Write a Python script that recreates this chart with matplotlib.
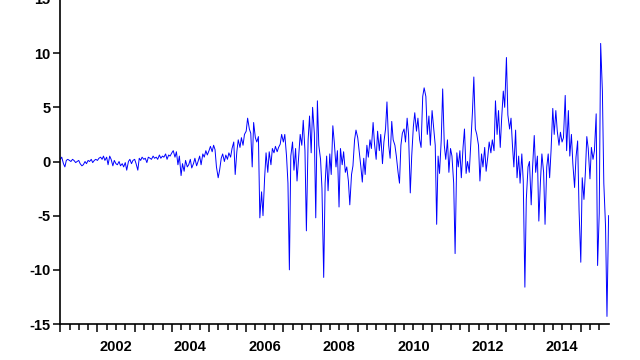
import numpy as np
import pandas as pd
import matplotlib
matplotlib.use("Agg")
import matplotlib.pyplot as plt
from matplotlib.ticker import MultipleLocator, FixedLocator, NullFormatter

plt.rcParams["axes.unicode_minus"] = False

v2001 = [0.2, 0.4, -0.2, -0.5, 0.1, 0.2, 0.1, 0.0, 0.2, 0.1, -0.1, 0.0,
         0.1, -0.2, -0.4, -0.3, 0.0, -0.2, 0.1, 0.0, 0.2, -0.1, 0.1, 0.2]
v2002 = [0.1, 0.3, 0.4, 0.2, 0.5, 0.1, 0.4, -0.3, 0.5, 0.2, -0.4, 0.1,
         -0.2, -0.3, 0.0, -0.4, -0.2, -0.5, -0.1, -0.8, 0.0, 0.2, -0.2, 0.1]
v2003 = [0.2, -0.2, -0.8, 0.3, 0.1, 0.4, 0.2, 0.3, -0.1, 0.4, 0.3, 0.2,
         0.5, 0.3, 0.4, 0.2, 0.6, 0.3, 0.5, 0.4, 0.7, 0.2, 0.6, 0.5]
v2004 = [0.8, 1.0, 0.4, 0.9, -0.3, 0.5, -1.3, -0.2, -0.9, 0.1, -0.5, -0.3,
         0.2, -0.6, -0.2, 0.3, -0.4, 0.0, 0.5, -0.3, 0.7, 0.4, 1.0, 0.6]
v2005 = [1.0, 1.4, 0.9, 1.5, 1.1, -0.5, -1.5, -0.8, 0.3, 0.7, 0.0, 0.6,
         0.2, 0.8, 0.4, 1.2, 1.8, -1.2, 0.9, 2.0, 1.3, 2.2, 1.5, 2.5]
v2006 = [2.8, 4.0, 3.0, 2.6, -0.5, 3.6, 2.2, 1.8, 2.3, -5.2, -2.8, -5.0,
         -1.5, 0.8, -1.0, 0.9, -0.3, 1.2, 0.8, 1.4, 0.9, 1.3, 1.6, 2.5]
v2007 = [1.8, 2.5, 0.5, -2.0, -10.0, 0.5, 1.8, -0.8, 1.2, -1.8, 0.6, 2.5,
         1.5, 3.8, 1.0, -6.4, 2.0, 4.2, 0.8, 5.0, 2.6, -5.2, 5.6, 1.5]
v2008 = [0.2, -2.5, -10.7, -2.0, 0.5, -2.7, 0.7, -1.2, 3.3, 1.8, -0.5, 1.0,
         -4.2, 1.2, -0.3, 0.9, -1.0, -0.5, -1.8, -4.0, -1.2, -0.4, 2.0, 2.9]
v2009 = [2.2, 1.0, -0.5, -1.9, 0.3, -1.2, 1.5, 0.4, 2.0, 1.2, 3.6, 1.6,
         0.2, 2.8, 1.0, 2.5, -0.2, 1.8, 3.0, 5.5, 1.5, 0.3, 3.7, 2.0]
v2010 = [1.5, 0.5, -1.0, -2.0, 1.5, 2.6, 3.0, 1.8, 4.0, 2.5, -2.9, 0.5,
         3.2, 4.5, 2.8, 4.0, 2.0, 1.3, 6.0, 6.8, 6.0, 2.5, 4.2, 1.5]
v2011 = [4.7, 3.3, 1.5, -5.8, 0.5, -1.1, 2.0, 6.7, 1.5, 0.2, 2.0, -1.0,
         1.2, 0.5, -2.0, -8.5, 0.8, -0.5, 1.0, -1.5, 1.3, 3.0, -1.1, 0.0]
v2012 = [-1.0, 1.5, 4.5, 7.8, 3.0, 2.5, 1.5, -1.8, 0.7, -0.5, 1.3, -0.9,
         0.4, 1.8, 0.8, 2.0, 1.0, 5.6, 2.5, 4.7, 1.3, 4.0, 6.5, 5.0]
v2013 = [9.6, 4.3, 3.0, 4.0, 1.5, -0.5, 2.9, -1.5, 0.5, -2.0, 0.7, -1.8,
         -11.6, -3.5, -0.5, 0.0, -4.0, -0.5, 2.4, -1.0, 0.5, -5.5, -1.8, 0.7]
v2014 = [-1.0, -5.8, -0.5, 0.7, -1.5, 1.0, 4.9, 2.5, 4.7, 2.8, 1.5, 2.7,
         1.8, 2.2, 6.1, 1.0, 4.7, 0.5, 2.5, -0.2, -2.4, 0.4, 1.9, -4.5]
v2015 = [-9.3, -1.5, -3.5, -1.0, 2.3, 1.2, -1.6, 1.3, 0.2, 1.0, 4.4, -9.6,
         -4.8, 10.9, 6.5, -2.0, -6.0, -14.3, -5.0]

values = np.array(v2001 + v2002 + v2003 + v2004 + v2005 + v2006 + v2007 + v2008
                  + v2009 + v2010 + v2011 + v2012 + v2013 + v2014 + v2015)

dates = pd.date_range("2001-01-01", periods=len(values), freq="SMS")
xdec = dates.year + (dates.dayofyear - 1) / (365 + dates.is_leap_year.astype(int))

year_ticks = list(range(2001, 2016))
label_years = [2002, 2004, 2006, 2008, 2010, 2012, 2014]
y_ticks = [-15, -10, -5, 0, 5, 10, 15]

fig = plt.figure(figsize=(6.4, 3.6), dpi=100)
ax = fig.add_axes([60.3 / 640, 36 / 360, (608.6 - 60.3) / 640, 325 / 360])

ax.plot(xdec, values, color="#0000ff", lw=0.7)

ax.set_xlim(2001.0, float(xdec[-1]))
ax.set_ylim(-15, 15)

for s in ["top", "right"]:
    ax.spines[s].set_visible(False)
for s in ["left", "bottom"]:
    ax.spines[s].set_linewidth(1.2)

ax.xaxis.set_major_locator(FixedLocator(year_ticks))
ax.xaxis.set_minor_locator(MultipleLocator(0.25))
ax.xaxis.set_major_formatter(NullFormatter())
ax.tick_params(axis="x", which="major", length=6, width=1.1, direction="out")
ax.tick_params(axis="x", which="minor", length=4, width=1.1, direction="out")

ax.set_yticks(y_ticks)
ax.tick_params(axis="y", which="major", length=5, width=1.1, direction="out", pad=2)
for lab in ax.get_yticklabels():
    lab.set_fontfamily("Liberation Sans")
    lab.set_fontweight("bold")
    lab.set_fontsize(10.5)

for yr in label_years:
    ax.annotate(str(yr), xy=(yr + 0.5, 0), xycoords=("data", "axes fraction"),
                xytext=(0, -11.5), textcoords="offset points",
                ha="center", va="top", fontsize=10.5, fontweight="bold",
                family="Liberation Sans", annotation_clip=False)

fig.savefig("out.png", dpi=100)
